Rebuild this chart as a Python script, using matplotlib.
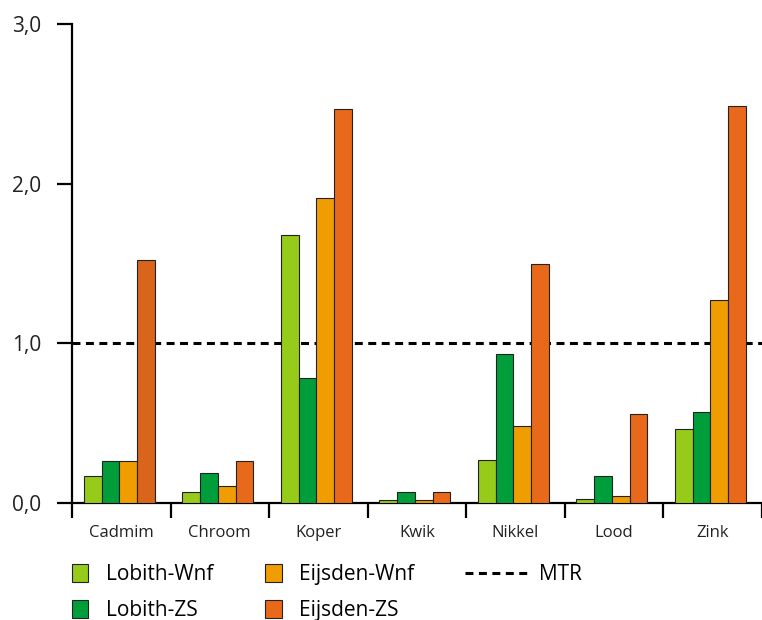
import matplotlib
matplotlib.use("Agg")
import matplotlib.pyplot as plt
import numpy as np
from matplotlib.patches import Patch
from matplotlib.lines import Line2D

plt.rcParams['font.family'] = ['Open Sans', 'DejaVu Sans']

categories = ["Cadmim", "Chroom", "Koper", "Kwik", "Nikkel", "Lood", "Zink"]
series_names = ["Lobith-Wnf", "Lobith-ZS", "Eijsden-Wnf", "Eijsden-ZS"]
lobith_wnf = [0.165, 0.067, 1.68, 0.02, 0.27, 0.023, 0.46]
lobith_zs = [0.265, 0.19, 0.78, 0.07, 0.93, 0.165, 0.57]
eijsden_wnf = [0.265, 0.108, 1.91, 0.02, 0.48, 0.044, 1.27]
eijsden_zs = [1.52, 0.265, 2.47, 0.07, 1.50, 0.557, 2.49]
mtr = 1.0
yticks = [0, 1, 2, 3]
ytick_labels = ["0,0", "1,0", "2,0", "3,0"]

colors = ["#96cb1a", "#009e3b", "#ef9d00", "#e8691a"]
# the Cadmim Eijsden-ZS bar is a bit darker in the original
zs_colors = ["#d9641b"] + ["#e8691a"] * 6

fig = plt.figure(figsize=(7.62, 6.2), dpi=100)
ax = fig.add_axes([0.0945, 0.189, 0.905, 0.772])

x = np.arange(len(categories))
barW = 0.18
data = [lobith_wnf, lobith_zs, eijsden_wnf, eijsden_zs]
for k, vals in enumerate(data):
    c = zs_colors if k == 3 else colors[k]
    ax.bar(x + 0.12 + barW * k + barW / 2, vals, width=barW, color=c,
           edgecolor="#222222", linewidth=0.8, zorder=3)

ax.axhline(mtr, color="black", lw=2.2, ls=(0, (2.6, 1.8)), zorder=2)

ax.set_xlim(0, len(categories))
ax.set_ylim(0, 3)
ax.spines['top'].set_visible(False)
ax.spines['right'].set_visible(False)
ax.spines['left'].set_linewidth(1.6)
ax.spines['bottom'].set_linewidth(1.6)

ax.set_yticks(yticks)
ax.set_yticklabels(ytick_labels, fontsize=15, color="#222222")
ax.tick_params(axis='y', length=11, width=1.6, pad=11)

ax.set_xticks(np.arange(len(categories) + 1))
ax.set_xticklabels([])
ax.tick_params(axis='x', which='major', length=11, width=1.6)
ax.set_xticks(x + 0.5, minor=True)
ax.set_xticklabels(categories, minor=True, fontsize=12, color="#222222")
ax.tick_params(axis='x', which='minor', length=0, pad=16)

handles = [Patch(facecolor=colors[k], edgecolor="#222222", linewidth=0.8, label=series_names[k]) for k in range(4)]
fig.legend(handles=handles, ncol=2, loc="upper left", bbox_to_anchor=(0.0945, 0.09),
           frameon=False, fontsize=15, handlelength=0.78, handleheight=0.95,
           handletextpad=0.85, columnspacing=2.5, labelspacing=0.7,
           borderpad=0, borderaxespad=0)
line_handle = [Line2D([0], [0], color="black", lw=2.2, ls=(0, (2.6, 1.8)), label="MTR")]
fig.legend(handles=line_handle, loc="upper left", bbox_to_anchor=(0.61, 0.09),
           frameon=False, fontsize=15, handlelength=3.1, handletextpad=0.45,
           borderpad=0, borderaxespad=0)

fig.savefig("out.png", dpi=100)
